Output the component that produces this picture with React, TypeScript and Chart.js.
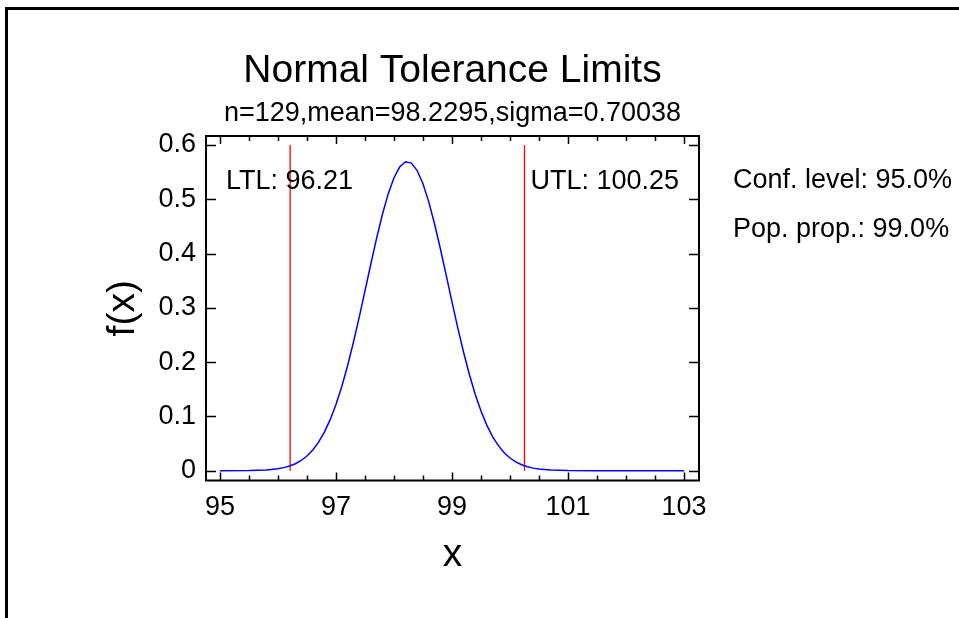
import React, { useEffect, useRef } from "react";
import { Chart, registerables } from "chart.js";

Chart.register(...registerables);

const curveX = [95.0, 95.5, 95.8, 96.0, 96.1, 96.2, 96.3, 96.4, 96.5, 96.6, 96.7, 96.8, 96.9, 97.0, 97.1, 97.2, 97.3, 97.4, 97.5, 97.6, 97.7, 97.8, 97.9, 98.0, 98.1, 98.2, 98.3, 98.4, 98.5, 98.6, 98.7, 98.8, 98.9, 99.0, 99.1, 99.2, 99.3, 99.4, 99.5, 99.6, 99.7, 99.8, 99.9, 100.0, 100.1, 100.2, 100.3, 100.4, 100.5, 100.7, 101.0, 101.5, 102.0, 103.0];
const curveY = [0.0, 0.0003, 0.0014, 0.0036, 0.0056, 0.0086, 0.0128, 0.0188, 0.027, 0.038, 0.0525, 0.071, 0.094, 0.122, 0.1551, 0.1934, 0.2361, 0.2825, 0.3311, 0.3803, 0.428, 0.472, 0.5099, 0.5398, 0.5599, 0.5691, 0.5667, 0.553, 0.5286, 0.4952, 0.4545, 0.4088, 0.3602, 0.311, 0.2631, 0.2181, 0.1771, 0.1409, 0.1099, 0.084, 0.0628, 0.0461, 0.0331, 0.0233, 0.0161, 0.0109, 0.0072, 0.0047, 0.003, 0.0011, 0.0002, 0.0, 0.0, 0.0];

const ltl = 96.21;
const utl = 100.25;
const limitTop = 0.6;

const xTicks = [95, 97, 99, 101, 103];
const xMinorTicks = [95.5, 96, 96.5, 97.5, 98, 98.5, 99.5, 100, 100.5, 101.5, 102, 102.5];
const yTicks = [0, 0.1, 0.2, 0.3, 0.4, 0.5, 0.6];

const titleText = "Normal Tolerance Limits";
const subtitleText = "n=129,mean=98.2295,sigma=0.70038";
const xTitle = "x";
const yTitle = "f(x)";
const ltlLabel = "LTL: 96.21";
const utlLabel = "UTL: 100.25";
const sideNotes = ["Conf. level: 95.0%", "Pop. prop.: 99.0%"];

const FONT = '"Liberation Sans", Arial, sans-serif';

export default function App() {
  const ref = useRef<HTMLCanvasElement>(null);

  useEffect(() => {
    const canvas = ref.current!;
    const decor = {
      id: "decor",
      afterDraw(chart: any) {
        const ctx = chart.ctx as CanvasRenderingContext2D;
        const a = chart.chartArea;
        const xs = chart.scales.x;
        const ys = chart.scales.y;
        const cx = (a.left + a.right) / 2;
        ctx.save();
        // outer frame
        ctx.strokeStyle = "#000";
        ctx.lineWidth = 3;
        ctx.beginPath();
        ctx.moveTo(6.5, 700);
        ctx.lineTo(6.5, 8.5);
        ctx.lineTo(1000, 8.5);
        ctx.stroke();
        // plot box
        ctx.lineWidth = 2;
        ctx.strokeRect(a.left, a.top, a.right - a.left, a.bottom - a.top);
        // ticks
        ctx.lineWidth = 1.5;
        ctx.beginPath();
        const xt = (vals: number[], len: number) => {
          vals.forEach((v) => {
            const p = Math.round(xs.getPixelForValue(v)) + 0.5;
            ctx.moveTo(p, a.bottom);
            ctx.lineTo(p, a.bottom - len);
            ctx.moveTo(p, a.top);
            ctx.lineTo(p, a.top + len);
          });
        };
        xt(xTicks, 8);
        xt(xMinorTicks, 5);
        yTicks.forEach((v) => {
          const p = Math.round(ys.getPixelForValue(v)) + 0.5;
          ctx.moveTo(a.left, p);
          ctx.lineTo(a.left + 10, p);
          ctx.moveTo(a.right, p);
          ctx.lineTo(a.right - 10, p);
        });
        ctx.stroke();
        // texts
        ctx.fillStyle = "#000";
        ctx.textAlign = "center";
        ctx.textBaseline = "alphabetic";
        ctx.font = `39px ${FONT}`;
        ctx.fillText(titleText, cx, 82);
        ctx.font = `27px ${FONT}`;
        ctx.fillText(subtitleText, cx, 121);
        ctx.font = `39px ${FONT}`;
        ctx.fillText(xTitle, cx, 566);
        ctx.save();
        ctx.translate(134, (a.top + a.bottom) / 2);
        ctx.rotate(-Math.PI / 2);
        ctx.fillText(yTitle, 0, 0);
        ctx.restore();
        ctx.font = `27px ${FONT}`;
        ctx.textAlign = "left";
        ctx.fillText(ltlLabel, a.left + 20, 189);
        ctx.fillText(utlLabel, xs.getPixelForValue(utl) + 6, 189);
        sideNotes.forEach((t, i) => ctx.fillText(t, a.right + 34, 188 + i * 49));
        ctx.restore();
      },
    };

    const chart = new Chart(canvas, {
      type: "line",
      data: {
        datasets: [
          {
            data: curveX.map((x, i) => ({ x, y: curveY[i] })),
            borderColor: "#0000ff",
            borderWidth: 1.5,
            pointRadius: 0,
            tension: 0,
          },
          {
            data: [{ x: ltl, y: 0 }, { x: ltl, y: limitTop }],
            borderColor: "#ff0000",
            borderWidth: 1.3,
            pointRadius: 0,
          },
          {
            data: [{ x: utl, y: 0 }, { x: utl, y: limitTop }],
            borderColor: "#ff0000",
            borderWidth: 1.3,
            pointRadius: 0,
          },
        ],
      },
      options: {
        responsive: false,
        animation: false,
        events: [],
        layout: { padding: { left: 0, right: 260, top: 136, bottom: 0 } },
        plugins: { legend: { display: false }, tooltip: { enabled: false }, title: { display: false } },
        scales: {
          x: {
            type: "linear",
            min: 94.759,
            max: 103.259,
            grid: { display: false, drawTicks: false },
            border: { display: false },
            afterBuildTicks: (s: any) => {
              s.ticks = xTicks.map((v) => ({ value: v }));
            },
            afterFit: (s: any) => {
              s.height = 137.5;
            },
            ticks: {
              autoSkip: false,
              maxRotation: 0,
              padding: 11,
              color: "#000",
              font: { family: FONT, size: 27 },
              callback: (v: any) => String(v),
            },
          },
          y: {
            type: "linear",
            min: -0.0181,
            max: 0.6166,
            grid: { display: false, drawTicks: false },
            border: { display: false },
            afterBuildTicks: (s: any) => {
              s.ticks = yTicks.map((v) => ({ value: v }));
            },
            afterFit: (s: any) => {
              s.width = 206;
            },
            ticks: {
              autoSkip: false,
              padding: 10,
              color: "#000",
              font: { family: FONT, size: 27 },
              callback: (v: any) => (v === 0 ? "0" : Number(v).toFixed(1)),
            },
          },
        },
      },
      plugins: [decor],
    });
    return () => chart.destroy();
  }, []);

  return (
    <canvas
      ref={ref}
      width={959}
      height={618}
      style={{ position: "absolute", left: 0, top: 0, width: 959, height: 618, display: "block", background: "#fff" }}
    />
  );
}
